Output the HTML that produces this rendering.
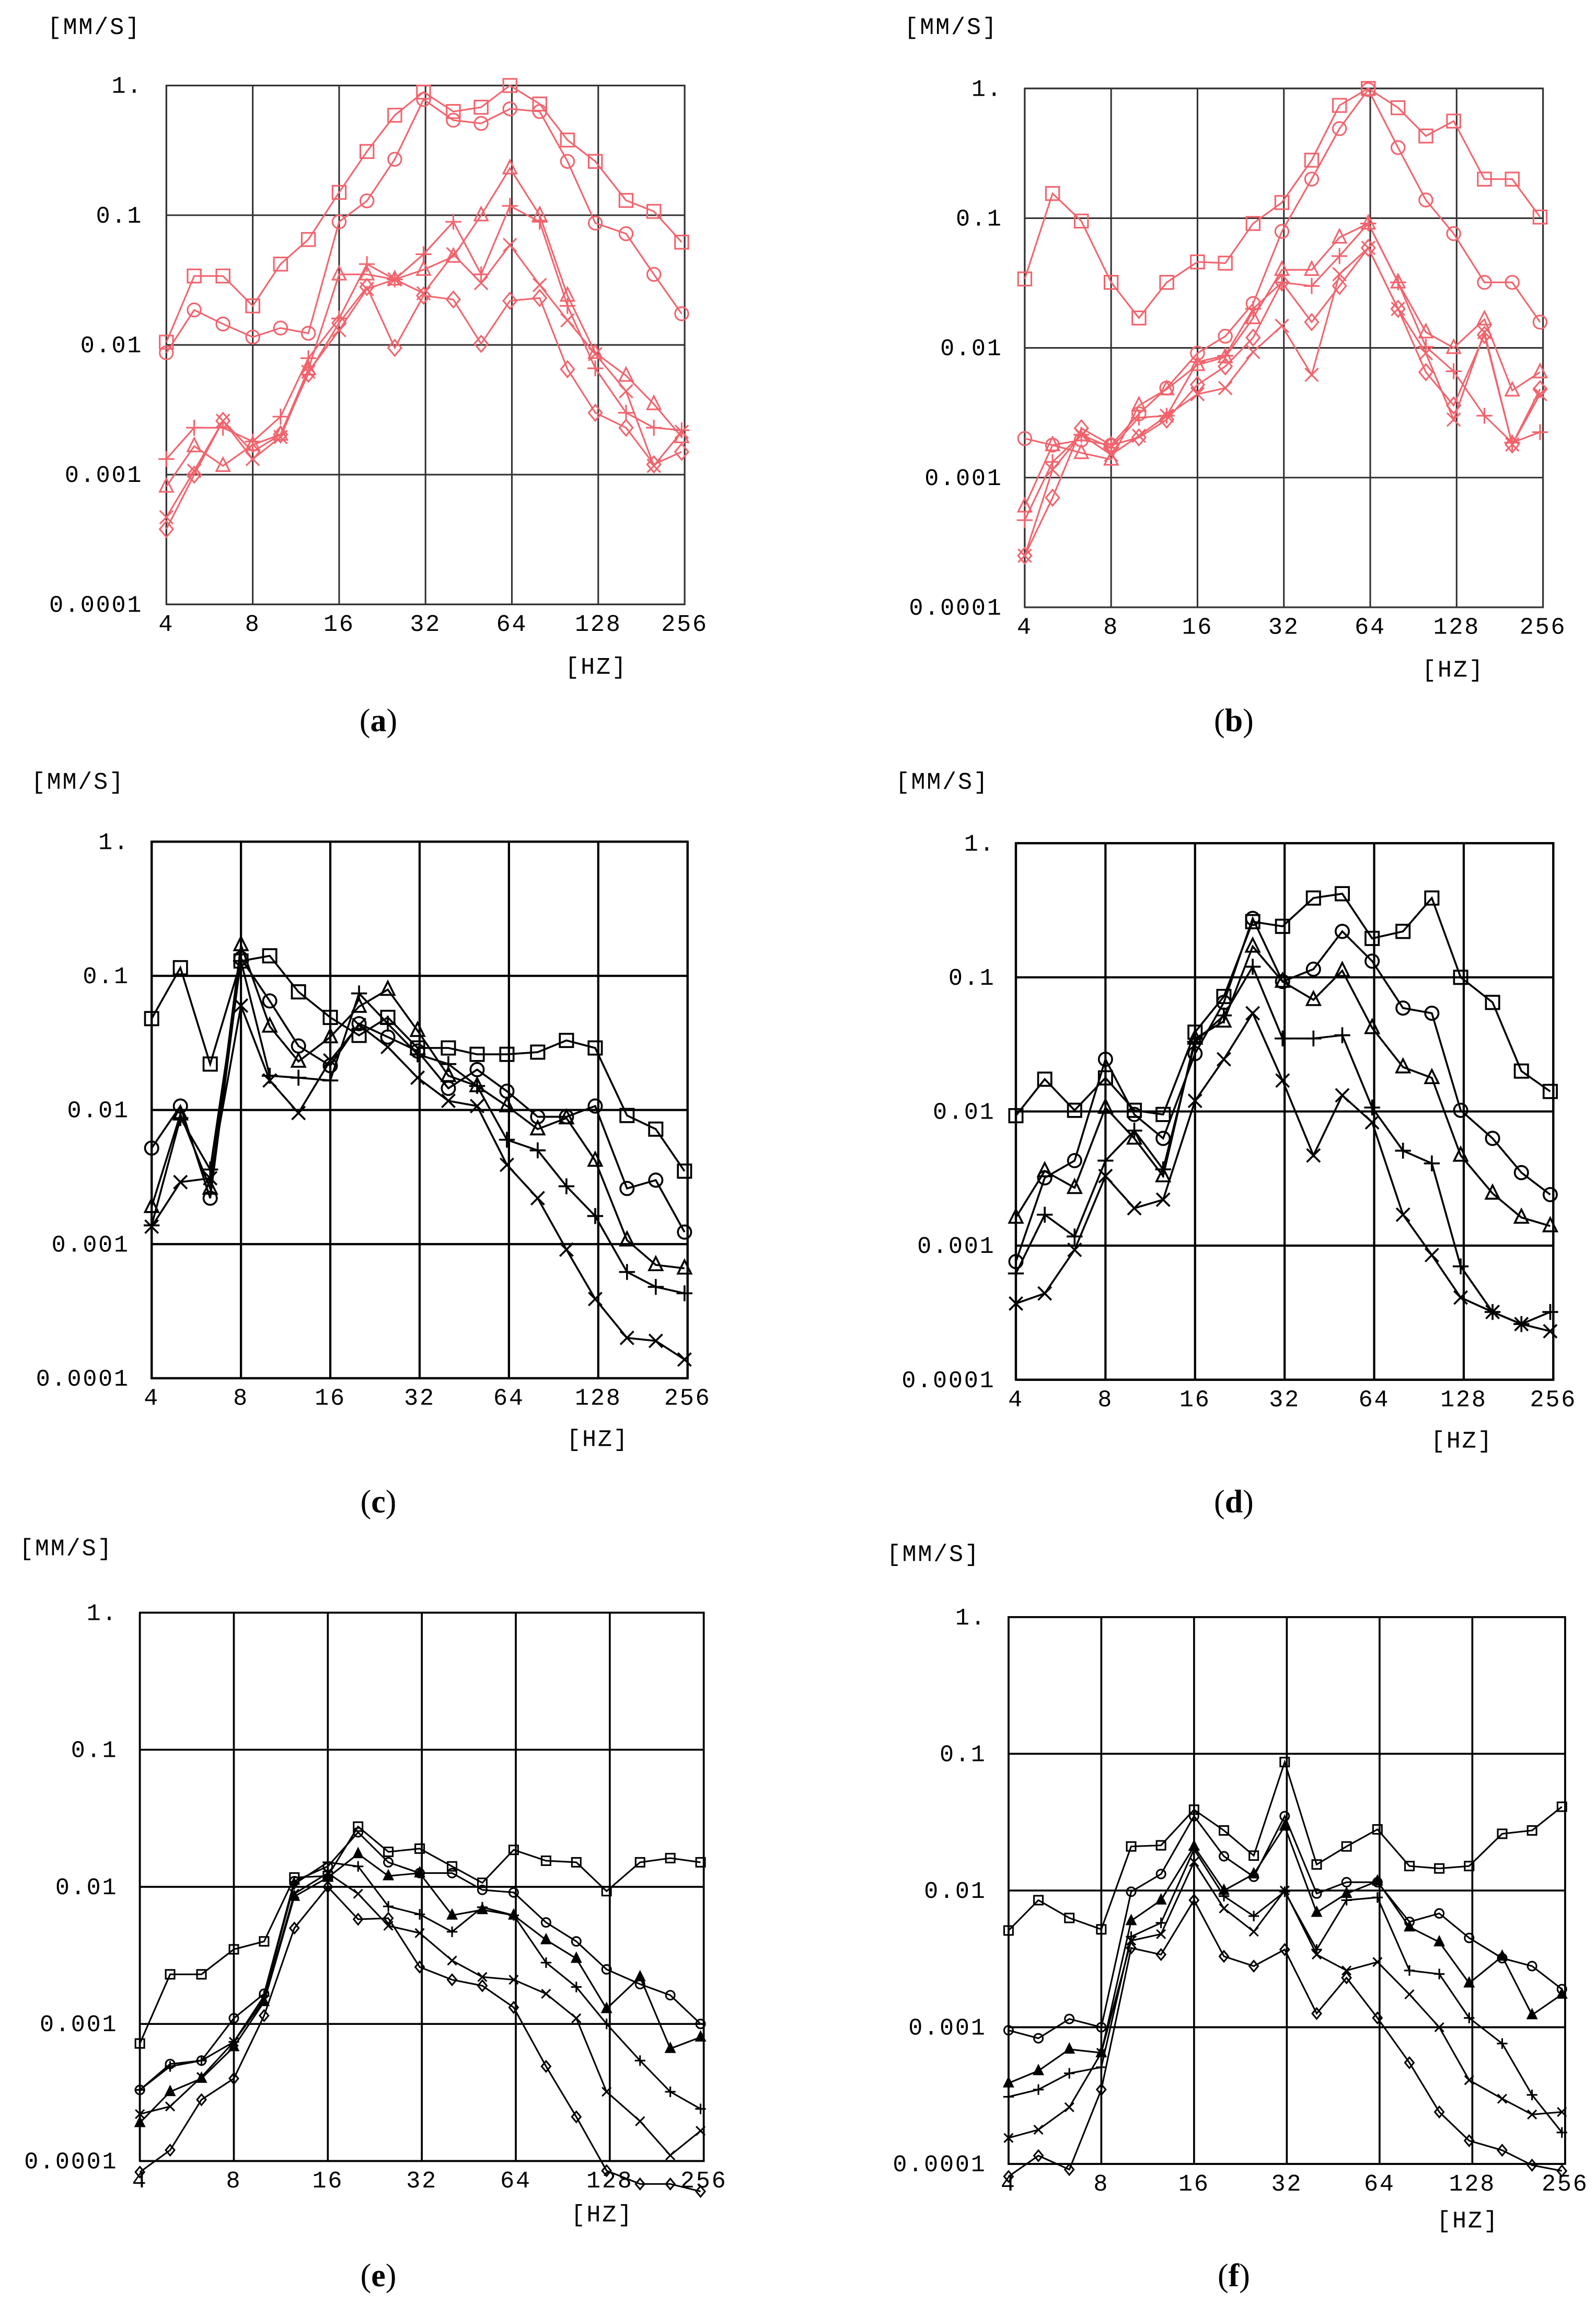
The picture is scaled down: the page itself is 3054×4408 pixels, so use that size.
<!DOCTYPE html>
<html><head><meta charset="utf-8"><title>Vibration velocity spectra (a)–(f)</title>
<style>
html,body{margin:0;padding:0;background:#fff;}
svg{display:block;}
.tick{font-family:"Liberation Mono",monospace;font-size:16px;letter-spacing:1px;}
.cap{font-family:"Liberation Serif",serif;font-size:22px;}
</style></head>
<body>
<svg id="fig" xmlns="http://www.w3.org/2000/svg" width="3054" height="4408" viewBox="0 0 1084 1563" preserveAspectRatio="none"></svg>
<script>
// ---- shared axes data ----
const freqs = [4,5,6.3,8,10,12.5,16,20,25,31.5,40,50,63,80,100,125,160,200,250];
const xTickLabels = ['4','8','16','32','64','128','256'];
const xTickValues = [4,8,16,32,64,128,256];
const yTickLabels = ['1.','0.1','0.01','0.001','0.0001'];
const yTickValues = [1,0.1,0.01,0.001,0.0001];

// ---- panel (a) ----
const a_square  = [0.0105,0.034,0.034,0.020,0.042,0.065,0.15,0.31,0.59,0.89,0.63,0.68,1.0,0.72,0.38,0.26,0.13,0.107,0.062];
const a_circle  = [0.0087,0.0186,0.0145,0.0115,0.0135,0.0123,0.089,0.129,0.27,0.78,0.54,0.51,0.66,0.63,0.26,0.087,0.072,0.035,0.0174];
const a_triangle= [0.00081,0.00166,0.00117,0.0017,0.00204,0.0065,0.035,0.035,0.032,0.038,0.048,0.1,0.23,0.1,0.024,0.0087,0.0058,0.0035,0.00195];
const a_plus    = [0.00132,0.0023,0.0023,0.0018,0.0028,0.0079,0.016,0.042,0.032,0.050,0.089,0.035,0.118,0.089,0.020,0.0066,0.0030,0.0023,0.0022];
const a_cross   = [0.00047,0.00107,0.0026,0.00132,0.00195,0.0062,0.013,0.027,0.032,0.025,0.050,0.030,0.059,0.029,0.0155,0.0085,0.0044,0.00117,0.00214];
const a_diamond = [0.00038,0.001,0.0026,0.0015,0.00204,0.006,0.0148,0.028,0.0095,0.024,0.0224,0.0102,0.0219,0.023,0.0065,0.003,0.0023,0.0012,0.0015];
// ---- panel (b) ----
const b_square  = [0.034,0.155,0.095,0.032,0.017,0.032,0.046,0.045,0.091,0.132,0.28,0.74,1.0,0.71,0.43,0.56,0.2,0.2,0.102];
const b_circle  = [0.002,0.00178,0.00195,0.00178,0.0031,0.0049,0.0091,0.0123,0.022,0.079,0.20,0.49,0.98,0.35,0.138,0.076,0.032,0.032,0.0158];
const b_triangle= [0.0006,0.00178,0.00155,0.00138,0.0036,0.0048,0.0074,0.0085,0.017,0.040,0.040,0.071,0.091,0.032,0.0132,0.01,0.0166,0.0047,0.0065];
const b_plus    = [0.00047,0.00132,0.00214,0.0017,0.0029,0.003,0.0078,0.0087,0.02,0.032,0.030,0.051,0.091,0.032,0.0102,0.0066,0.003,0.00186,0.00224];
const b_cross   = [0.00025,0.00115,0.00214,0.0015,0.0021,0.003,0.0044,0.0049,0.0093,0.0148,0.0062,0.037,0.059,0.02,0.0091,0.0028,0.0132,0.0018,0.0044];
const b_diamond = [0.00025,0.0007,0.0024,0.00178,0.00204,0.0028,0.0052,0.0072,0.012,0.032,0.0158,0.030,0.059,0.02,0.0065,0.0036,0.0126,0.0018,0.0048];
// ---- panel (c) ----
const c_square  = [0.048,0.115,0.022,0.129,0.141,0.076,0.049,0.036,0.049,0.029,0.029,0.026,0.026,0.027,0.033,0.029,0.0091,0.0072,0.0035];
const c_circle  = [0.0052,0.0107,0.0022,0.135,0.065,0.030,0.0214,0.044,0.035,0.0275,0.0145,0.020,0.0138,0.0089,0.0089,0.0107,0.0026,0.003,0.00123];
const c_triangle= [0.0019,0.0093,0.0026,0.17,0.042,0.023,0.035,0.059,0.079,0.039,0.018,0.0151,0.0107,0.0072,0.0087,0.0042,0.00107,0.0007,0.00066];
const c_plus    = [0.00138,0.0087,0.0036,0.129,0.018,0.0174,0.0166,0.074,0.044,0.026,0.022,0.0151,0.006,0.005,0.0027,0.00162,0.00062,0.00048,0.00043];
const c_cross   = [0.00135,0.0029,0.0031,0.06,0.0166,0.0095,0.0234,0.043,0.0295,0.0174,0.0117,0.0107,0.0039,0.0022,0.00091,0.00039,0.0002,0.00019,0.000138];
// ---- panel (d) ----
const d_square  = [0.0093,0.0174,0.0102,0.0178,0.0102,0.0095,0.039,0.072,0.26,0.24,0.39,0.42,0.195,0.22,0.39,0.1,0.065,0.02,0.0141];
const d_circle  = [0.00076,0.0032,0.0043,0.0245,0.0095,0.0063,0.027,0.065,0.275,0.093,0.115,0.22,0.132,0.059,0.054,0.0102,0.0063,0.0035,0.0024];
const d_triangle= [0.00162,0.0036,0.0027,0.0107,0.0063,0.0033,0.035,0.047,0.17,0.093,0.068,0.112,0.042,0.0214,0.0178,0.0047,0.00245,0.00162,0.0014];
const d_plus    = [0.00062,0.0017,0.00117,0.0043,0.0072,0.0037,0.033,0.052,0.12,0.035,0.035,0.037,0.0107,0.0051,0.0041,0.0007,0.00032,0.00026,0.00032];
const d_cross   = [0.00037,0.00044,0.00093,0.0033,0.0019,0.0022,0.012,0.0245,0.054,0.017,0.0047,0.0132,0.0083,0.0017,0.00085,0.00041,0.00032,0.00026,0.00023];
// ---- panel (e) ----
const e_square  = [0.00072,0.0023,0.0023,0.0035,0.004,0.0117,0.012,0.0275,0.018,0.019,0.0141,0.0107,0.0186,0.0155,0.0151,0.0093,0.0151,0.0162,0.0151];
const e_circle  = [0.00033,0.00051,0.00054,0.0011,0.00166,0.011,0.0141,0.025,0.0151,0.0126,0.0126,0.0095,0.0091,0.0055,0.004,0.0025,0.00195,0.00162,0.001];
const e_triangle= [0.00019,0.00032,0.0004,0.00068,0.00145,0.0085,0.0117,0.0174,0.012,0.0126,0.0062,0.0068,0.0062,0.0041,0.003,0.00129,0.0022,0.00066,0.0008];
const e_plus    = [0.00033,0.00049,0.00054,0.00074,0.0016,0.0105,0.0151,0.0141,0.0072,0.0063,0.0047,0.0071,0.0062,0.0028,0.00186,0.001,0.00054,0.00032,0.00024];
const e_cross   = [0.00022,0.00025,0.00041,0.00074,0.0015,0.0089,0.0126,0.0089,0.0052,0.0046,0.0029,0.0022,0.0021,0.00166,0.0011,0.00032,0.000195,0.00011,0.000166];
const e_diamond = [0.000083,0.00012,0.00028,0.0004,0.00115,0.005,0.01,0.0058,0.0059,0.0026,0.0021,0.0019,0.00132,0.00049,0.00021,0.000085,0.000068,0.000068,0.00006];
// ---- panel (f) ----
const f_square  = [0.0051,0.0085,0.0063,0.0052,0.021,0.0214,0.039,0.0275,0.018,0.087,0.0155,0.021,0.028,0.0151,0.0145,0.0151,0.026,0.0275,0.041];
const f_circle  = [0.00095,0.00083,0.00115,0.001,0.0098,0.0132,0.035,0.0178,0.0126,0.035,0.0095,0.0115,0.0115,0.0059,0.0068,0.0045,0.0032,0.0028,0.0019];
const f_triangle= [0.00039,0.00048,0.00069,0.00065,0.006,0.0085,0.021,0.01,0.0132,0.0295,0.0069,0.0095,0.0117,0.0054,0.0042,0.0021,0.0033,0.00123,0.00174];
const f_plus    = [0.00031,0.00035,0.00046,0.00051,0.0046,0.0058,0.02,0.0091,0.0065,0.0098,0.0037,0.0085,0.0089,0.0026,0.00245,0.00117,0.00076,0.00032,0.00017];
const f_cross   = [0.000155,0.000178,0.00026,0.00065,0.0043,0.0048,0.0162,0.0074,0.005,0.01,0.0034,0.0026,0.003,0.00174,0.001,0.00041,0.0003,0.00023,0.00024];
const f_diamond = [0.000081,0.000115,0.000091,0.00035,0.0038,0.0034,0.0085,0.0033,0.0028,0.0037,0.00126,0.0023,0.00117,0.00055,0.00024,0.000148,0.000126,0.000098,0.000089];

const NS = 'http://www.w3.org/2000/svg';
const svg = document.getElementById('fig');
function mk(tag, attrs, parent){
  const e = document.createElementNS(NS, tag);
  for (const k in attrs) e.setAttribute(k, attrs[k]);
  (parent||svg).appendChild(e);
  return e;
}

const panels = [
  {id:'a', box:[113,58,465,410], col:'#f2636c', gw:1.1, lw:1.1, ms:4.5, small:false, lblX:97, mm:[64,18], hz:[405,452], cap:[257,490],
   series:[['square',a_square],['circle',a_circle],['triangle',a_triangle],['plus',a_plus],['cross',a_cross],['diamond',a_diamond]]},
  {id:'b', box:[696,60,1048,412], col:'#f2636c', gw:1.1, lw:1.1, ms:4.5, small:false, lblX:681, mm:[646,18], hz:[987,454], cap:[838,490],
   series:[['square',b_square],['circle',b_circle],['triangle',b_triangle],['plus',b_plus],['cross',b_cross],['diamond',b_diamond]]},
  {id:'c', box:[103,571,467,935], col:'#000', gw:1.5, lw:1.3, ms:4.5, small:false, lblX:88, mm:[53,530], hz:[406,976], cap:[257,1020],
   series:[['square',c_square],['circle',c_circle],['triangle',c_triangle],['plus',c_plus],['cross',c_cross]]},
  {id:'d', box:[690,572,1055,936], col:'#000', gw:1.5, lw:1.3, ms:4.5, small:false, lblX:676, mm:[640,530], hz:[993,977], cap:[838,1020],
   series:[['square',d_square],['circle',d_circle],['triangle',d_triangle],['plus',d_plus],['cross',d_cross]]},
  {id:'e', box:[95,1094,478,1466], col:'#000', gw:1.3, lw:1.1, ms:3, small:true, lblX:80, mm:[45,1050], hz:[409,1502], cap:[257,1545],
   series:[['square',e_square],['circle',e_circle],['triangle',e_triangle],['plus',e_plus],['cross',e_cross],['diamond',e_diamond]]},
  {id:'f', box:[685,1097,1063,1468], col:'#000', gw:1.3, lw:1.1, ms:3, small:true, lblX:670, mm:[634,1054], hz:[997,1506], cap:[838,1545],
   series:[['square',f_square],['circle',f_circle],['triangle',f_triangle],['plus',f_plus],['cross',f_cross],['diamond',f_diamond]]}
];

function marker(g, type, x, y, s, col, small, lw){
  let e;
  const st = {fill:'none', stroke:col, 'stroke-width':lw};
  if (type==='square') e = mk('rect', Object.assign({x:x-s,y:y-s,width:2*s,height:2*s}, st), g);
  else if (type==='circle') e = mk('circle', Object.assign({cx:x,cy:y,r:s}, st), g);
  else if (type==='triangle') e = mk('polygon', Object.assign({points:`${x},${y-s*1.2} ${x-s},${y+s*0.8} ${x+s},${y+s*0.8}`}, st, small?{fill:col}:{}), g);
  else if (type==='plus') e = mk('path', Object.assign({d:`M${x-s*1.2},${y}H${x+s*1.2}M${x},${y-s*1.2}V${y+s*1.2}`}, st), g);
  else if (type==='cross') e = mk('path', Object.assign({d:`M${x-s},${y-s}L${x+s},${y+s}M${x-s},${y+s}L${x+s},${y-s}`}, st), g);
  else e = mk('polygon', Object.assign({points:`${x},${y-s*1.2} ${x+s},${y} ${x},${y+s*1.2} ${x-s},${y}`}, st), g);
  
  
}

panels.forEach(p => {
  const [x0,y0,x1,y1] = p.box;
  const xs = v => x0 + (Math.log2(v/4)/6)*(x1-x0);
  const ys = v => y0 + (-Math.log10(v)/4)*(y1-y0);
  const g = mk('g', {});
  
  
  const grid = mk('g', {stroke: p.id==='a'||p.id==='b' ? '#333' : '#000', 'stroke-width':p.gw, fill:'none'}, g);
  
  
  mk('rect', {x:x0,y:y0,width:x1-x0,height:y1-y0}, grid);
  xTickValues.forEach(v => mk('line', {x1:xs(v),x2:xs(v),y1:y0,y2:y1}, grid));
  yTickValues.forEach(v => mk('line', {x1:x0,x2:x1,y1:ys(v),y2:ys(v)}, grid));
  yTickValues.forEach((v,i) => {
    const t = mk('text', {x:p.lblX, y:ys(v)+5, 'text-anchor':'end', class:'tick'}, g);
    t.textContent = yTickLabels[i];
    
    
  });
  xTickValues.forEach((v,i) => {
    const t = mk('text', {x:xs(v), y:y1+18, 'text-anchor':'middle', class:'tick'}, g);
    t.textContent = xTickLabels[i];
    
    
  });
  const yt = mk('text', {x:p.mm[0], y:p.mm[1]+5, 'text-anchor':'middle', class:'tick'}, g);
  yt.textContent = '[MM/S]';
  
  
  const xt = mk('text', {x:p.hz[0], y:p.hz[1]+5, 'text-anchor':'middle', class:'tick'}, g);
  xt.textContent = '[HZ]';
  
  
  const cap = mk('text', {x:p.cap[0], y:p.cap[1]+6, 'text-anchor':'middle', class:'cap'}, g);
  cap.innerHTML = '(<tspan font-weight="bold">'+p.id+'</tspan>)';
  
  
  p.series.forEach(([type, vals]) => {
    const sg = mk('g', {}, g);
    
    
    const pts = vals.map((v,i) => xs(freqs[i]).toFixed(2)+','+ys(v).toFixed(2)).join(' ');
    const line = mk('polyline', {points:pts, fill:'none', stroke:p.col, 'stroke-width':p.lw}, sg);
    
    
    vals.forEach((v,i) => marker(sg, type, xs(freqs[i]), ys(v), p.ms, p.col, p.small, p.lw));
  });
});
</script>
</body></html>
